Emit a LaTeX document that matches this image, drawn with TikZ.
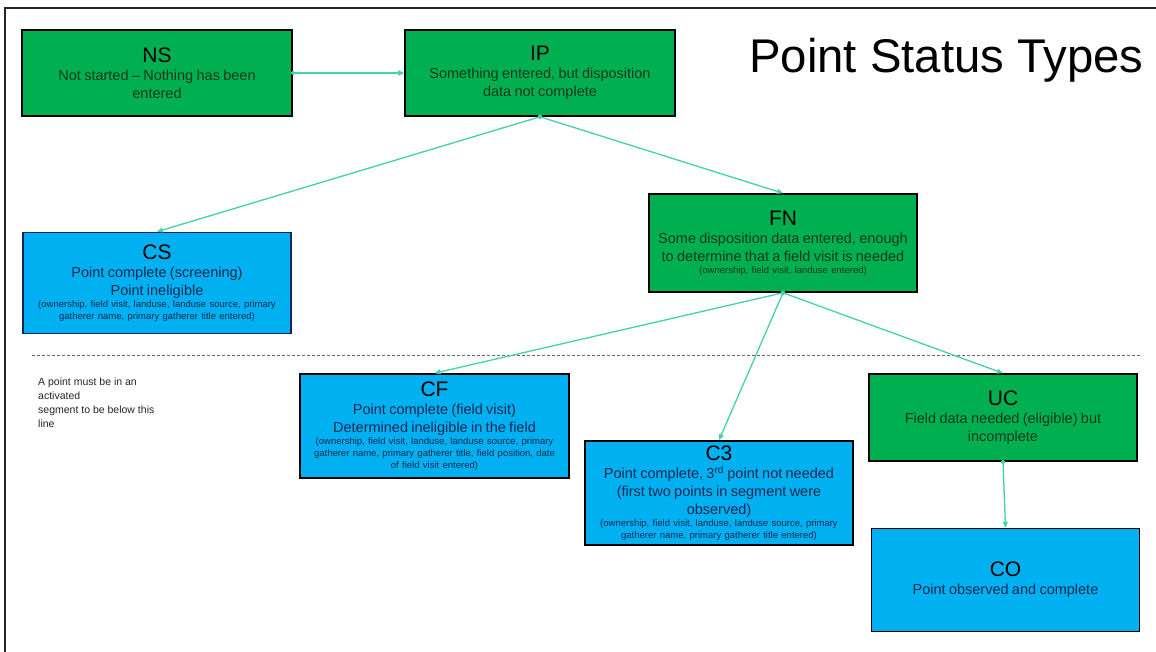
\documentclass[tikz,border=0pt]{standalone}
\usepackage{fontspec}
\setmainfont{Liberation Sans}
\usetikzlibrary{arrows.meta}
\definecolor{boxgreen}{HTML}{00B050}
\definecolor{boxblue}{HTML}{00B0F0}
\definecolor{conn}{HTML}{45D2A8}
\definecolor{gtext}{HTML}{0E3A1C}
\definecolor{btext}{HTML}{0B2A55}
\definecolor{navy}{HTML}{14235E}
\newcommand{\bxT}[1]{{\fontsize{21}{25}\selectfont\color{black}#1\par}}
\newcommand{\bxB}[1]{{\fontsize{14.5}{18}\selectfont #1\par}}
\newcommand{\bxS}[1]{{\fontsize{9.5}{11.8}\selectfont #1\par}}
\tikzset{
  gbox/.style={draw=black, line width=1.6pt, fill=boxgreen, align=center, text width=264pt, inner sep=2pt, text=gtext},
  bbox/.style={draw=black, line width=1.6pt, fill=boxblue, align=center, text width=264pt, inner sep=2pt, text=btext},
  conline/.style={draw=conn, line width=1.3pt, {Circle[length=4.5pt]}-{Triangle[length=6pt,width=5pt]}, shorten <=-2pt},
  notetext/.style={align=left, anchor=north west, font=\fontsize{10.5}{14}\selectfont, text=black!85, inner sep=0pt}
}
\begin{document}
\begin{tikzpicture}[x=1pt,y=-1pt]
\useasboundingbox (0,0) rectangle (1156,652);
\fill[white] (0,0) rectangle (1156,652);
\draw[line width=2pt, black!85] (5,652) -- (5,8) -- (1156,8);

\node[anchor=west, font=\fontsize{47.3}{50}\selectfont, inner sep=0pt] (title) at (749,60) {Point Status Types};

\draw[densely dashed, black!60, line width=0.6pt] (32,355) -- (1140,355);
\node[notetext] (note) at (38,378) {A point must be in an\\activated\\segment to be below this\\line};

\node[gbox, minimum width=270pt, minimum height=86pt] (NS) at (157,73)
  {\bxT{NS}\bxB{Not started -- Nothing has been\\entered}};
\node[gbox, minimum width=270pt, minimum height=86pt] (IP) at (540,73)
  {\bxT{IP}\bxB{Something entered, but disposition\\data not complete}};
\node[bbox, draw=navy, minimum width=268pt, minimum height=101pt] (CS) at (157,283)
  {\bxT{CS}\bxB{Point complete (screening)\\Point ineligible}\bxS{(ownership, field visit, landuse, landuse source, primary\\gatherer name, primary gatherer title entered)}};
\node[gbox, minimum width=268pt, minimum height=98pt] (FN) at (783,243)
  {\bxT{FN}\bxB{Some disposition data entered, enough\\to determine that a field visit is needed}\bxS{(ownership, field visit, landuse entered)}};
\node[bbox, minimum width=269pt, minimum height=104pt] (CF) at (434.5,426)
  {\bxT{CF}\bxB{Point complete (field visit)\\Determined ineligible in the field}\bxS{(ownership, field visit, landuse, landuse source, primary\\gatherer name, primary gatherer title, field position, date\\of field visit entered)}};
\node[bbox, minimum width=268pt, minimum height=104pt] (C3) at (719,493)
  {\bxT{C3}\bxB{Point complete, 3\textsuperscript{rd} point not needed\\(first two points in segment were\\observed)}\bxS{(ownership, field visit, landuse, landuse source, primary\\gatherer name, primary gatherer title entered)}};
\node[gbox, minimum width=268pt, minimum height=87pt] (UC) at (1003,417.5)
  {\bxT{UC}\bxB{Field data needed (eligible) but\\incomplete}};
\node[bbox, minimum width=267pt, minimum height=103pt] (CO) at (1005.5,580)
  {\bxT{CO}\bxB{Point observed and complete}};

\draw[conline] (NS.east) -- (IP.west);
\draw[conline] (IP.south) -- (CS.north);
\draw[conline] (IP.south) -- (FN.north);
\draw[conline] (FN.south) -- (CF.north);
\draw[conline] (FN.south) -- (C3.north);
\draw[conline] (FN.south) -- (UC.north);
\draw[conline] (UC.south) -- (CO.north);
\end{tikzpicture}
\end{document}
